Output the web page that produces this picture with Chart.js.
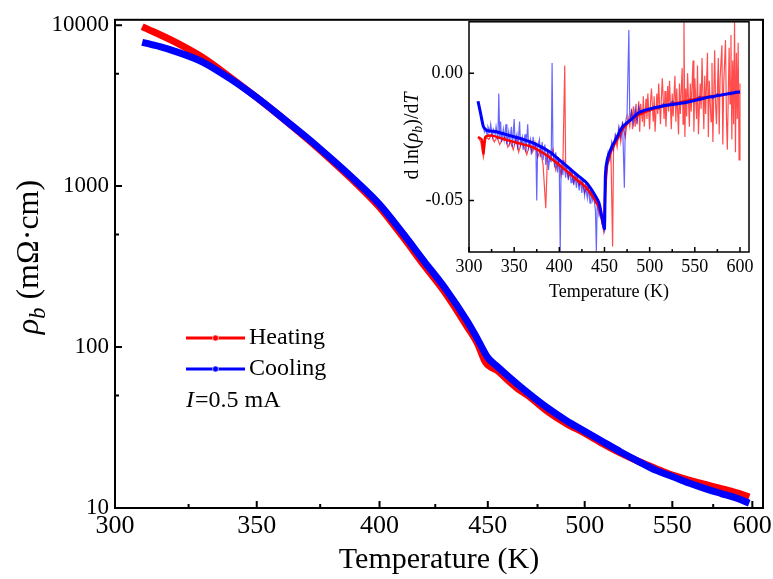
<!DOCTYPE html>
<html>
<head>
<meta charset="utf-8">
<script src="https://cdn.jsdelivr.net/npm/chart.js@4/dist/chart.umd.min.js"></script>
<style>
html, body { margin: 0; padding: 0; background: #fff; }
#wrap { position: relative; width: 773px; height: 579px; }
#main { position: absolute; left: 0; top: 0; }
#inset { position: absolute; left: 395px; top: 5px; }
</style>
</head>
<body>
<div id="wrap">
  <canvas id="main" width="773" height="579" style="width:773px;height:579px"></canvas>
  <canvas id="inset" width="365" height="305" style="width:365px;height:305px"></canvas>
</div>
<script>
// main panel: resistivity vs temperature (log-log)
const heatT = [309, 320, 330, 340, 350, 360, 370, 380, 390, 400, 410, 420, 430, 440, 445, 449, 455, 460, 465, 470, 480, 490, 500, 510, 520, 530, 540, 550, 560, 570, 580, 590, 598];
const heatRho = [9800, 7900, 6300, 4750, 3550, 2640, 1950, 1430, 1040, 740, 490, 320, 214, 134, 105, 80, 71, 62, 55, 50, 40, 33.5, 29.2, 25.1, 21.9, 19.5, 17.6, 16.0, 14.9, 14.0, 13.2, 12.4, 11.7];
const coolT = [309, 315, 320, 330, 340, 350, 360, 370, 380, 390, 400, 410, 420, 430, 440, 445, 450, 455, 460, 470, 480, 490, 500, 510, 520, 530, 540, 550, 560, 570, 580, 590, 598];
const coolRho = [7830, 7350, 6900, 5900, 4650, 3550, 2650, 1980, 1460, 1070, 770, 515, 340, 228, 145, 112, 86, 75, 66, 52, 42, 35, 30, 25.8, 22.3, 19.5, 17.2, 15.7, 14.3, 13.2, 12.3, 11.5, 10.7];

const xMajor = [300, 350, 400, 450, 500, 550, 600];
const xMinor = [325, 375, 425, 475, 525, 575];
const yMajor = [10, 100, 1000, 10000];
const yMinor = [50, 500, 5000];

// inset: d ln(rho)/dT, raw runs
const insetHeatT = [310, 313, 316, 319, 322, 325, 328, 331, 334, 337, 340, 343, 346, 349, 352, 355, 358, 361, 364, 367, 370, 373, 376, 379, 382, 385, 387, 390, 393, 396, 399, 402, 404, 406, 407, 410, 413, 416, 419, 422, 425, 428, 431, 434, 437, 440, 443, 446, 449, 451, 453, 455, 457, 459, 460, 462, 464, 466, 468, 470, 473, 476, 478,
    480, 481, 482, 484, 485, 486, 488, 489, 490, 492, 493, 494, 496, 497, 498, 500, 501, 502, 504, 505, 506, 508, 509, 510, 512, 513, 514, 516, 517, 518, 520, 521, 522, 524, 525, 526, 528, 529, 530, 532, 533, 534, 536, 537, 538, 539, 540, 541, 542, 544, 545, 546, 548, 549, 550, 552, 553, 554, 556, 557, 558, 560, 561, 562, 564, 565, 566, 568, 569, 570, 572, 573, 574, 576, 577, 578, 580, 581, 582, 584, 585, 586, 588, 589, 590, 591, 592, 593, 594, 595, 596, 597, 598, 599, 600];
const insetHeatV = [-0.025, -0.027, -0.033, -0.025, -0.026, -0.024, -0.027, -0.025, -0.028, -0.026, -0.025, -0.029, -0.027, -0.030, -0.026, -0.031, -0.027, -0.029, -0.032, -0.028, -0.031, -0.027, -0.033, -0.030, -0.036, -0.053, -0.031, -0.034, -0.030, -0.038, -0.034, -0.040, -0.035, 0.003, -0.037, -0.041, -0.038, -0.043, -0.040, -0.044, -0.042, -0.047, -0.044, -0.048, -0.046, -0.051, -0.050, -0.056, -0.062, -0.046, -0.036, -0.034, -0.029, -0.068, -0.030, -0.025, -0.029, -0.022, -0.027, -0.020, -0.025, -0.017, -0.021,
    -0.014, -0.022, -0.013, -0.021, -0.012, -0.020, -0.011, -0.023, -0.012, -0.019, -0.009, -0.021, -0.010, -0.018, -0.008, -0.022, -0.011, -0.006, -0.019, -0.009, -0.023, -0.008, -0.016, -0.004, -0.020, -0.010, -0.002, -0.018, -0.007, -0.021, -0.005, -0.015, -0.003, -0.022, -0.008, -0.017, -0.001, -0.019, -0.006, -0.024, -0.004, -0.016, 0.002, -0.020, 0.020, -0.025, -0.006, -0.017, 0.000, -0.021, -0.004, -0.015, 0.005, -0.023, -0.002, -0.018, 0.003, -0.024, -0.004, -0.014, 0.006, -0.022, -0.001, -0.016, 0.008, -0.025, -0.003, -0.019, 0.004, -0.027, 0.009, -0.012, -0.020, 0.006, -0.024, -0.002, 0.011, -0.028, -0.004, 0.013, -0.017, -0.030, 0.010, -0.012, 0.015, -0.026, 0.005, -0.020, 0.020, -0.031, 0.008, -0.018, 0.012, -0.034, -0.004];
const insetCoolT = [310, 312, 314, 316, 317, 318, 320, 321, 323, 324, 326, 327, 329, 330, 332, 333, 334, 335, 336, 338, 339, 341, 342, 344, 345, 347, 348, 350, 351, 353, 354, 356, 357, 359, 360, 362, 363, 365, 366, 368, 369, 371, 372, 374, 375, 376, 378, 379, 381, 382, 384, 385, 387, 388, 390, 391, 392, 393, 395, 396, 398, 399, 400, 401, 402, 404, 405, 407, 408, 410, 411, 413, 414, 416, 417, 419, 420, 422, 423, 425, 426, 428, 429, 431, 432, 434, 435, 437, 438, 440, 441, 442, 444, 446, 448, 450,
    451, 452, 454, 456, 458, 460, 462, 464, 466, 468, 470, 472, 473, 475, 477, 478, 480, 482, 484, 486, 488, 490, 495, 500, 505, 510, 515, 520, 525, 530, 535, 540, 545, 550, 555, 560, 565, 570, 575, 580, 585, 590, 595, 600];
const insetCoolV = [-0.011, -0.015, -0.019, -0.021, -0.023, -0.022, -0.024, -0.021, -0.023, -0.020, -0.025, -0.022, -0.024, -0.021, -0.026, -0.008, -0.025, -0.019, -0.027, -0.022, -0.026, -0.020, -0.028, -0.023, -0.027, -0.021, -0.029, -0.018, -0.027, -0.024, -0.030, -0.019, -0.028, -0.025, -0.030, -0.024, -0.031, -0.020, -0.029, -0.026, -0.032, -0.025, -0.030, -0.028, -0.050, -0.029, -0.026, -0.033, -0.027, -0.034, -0.028, -0.036, -0.030, -0.038, -0.031, -0.035, 0.004, -0.032, -0.037, -0.031, -0.039, -0.033, -0.038, -0.070, -0.035, -0.040, -0.034, -0.041, -0.036, -0.042, -0.037, -0.043, -0.038, -0.044, -0.039, -0.045, -0.040, -0.046, -0.041, -0.047, -0.042, -0.048, -0.044, -0.049, -0.045, -0.051, -0.047, -0.050, -0.048, -0.054, -0.070, -0.050, -0.056, -0.054, -0.060, -0.062,
    -0.045, -0.036, -0.031, -0.034, -0.027, -0.030, -0.024, -0.026, -0.021, -0.025, -0.019, -0.045, -0.020, -0.016, 0.017, -0.019, -0.015, -0.020, -0.014, -0.019, -0.013, -0.016, -0.014, -0.015, -0.013, -0.014, -0.012, -0.013, -0.011, -0.012, -0.011, -0.012, -0.010, -0.011, -0.009, -0.010, -0.009, -0.010, -0.008, -0.009, -0.008, -0.0085, -0.007, -0.0075];
// smoothed trend of each run
const trendHeatT = [310, 314, 316, 318, 325, 340, 355, 370, 385, 400, 410, 420, 430, 440, 445, 449, 451, 453, 458, 464, 470, 480, 490, 500, 520, 540, 560, 580, 600];
const trendHeatV = [-0.025, -0.026, -0.0315, -0.025, -0.0245, -0.026, -0.0275, -0.029, -0.032, -0.036, -0.039, -0.042, -0.045, -0.050, -0.054, -0.060, -0.045, -0.036, -0.030, -0.026, -0.022, -0.018, -0.016, -0.0145, -0.0125, -0.011, -0.0095, -0.0085, -0.0075];
const trendCoolT = [310, 313, 316, 320, 330, 345, 360, 375, 390, 400, 410, 420, 430, 438, 444, 448, 450, 451, 453, 458, 464, 470, 480, 488, 500, 520, 540, 560, 580, 600];
const trendCoolV = [-0.011, -0.016, -0.021, -0.0225, -0.023, -0.0245, -0.026, -0.028, -0.031, -0.034, -0.037, -0.040, -0.043, -0.047, -0.051, -0.058, -0.061, -0.040, -0.034, -0.029, -0.025, -0.021, -0.018, -0.0155, -0.014, -0.0125, -0.0115, -0.0098, -0.0085, -0.0073];

const insetXMajor = [300, 350, 400, 450, 500, 550, 600];
const insetXMinor = [325, 375, 425, 475, 525, 575];
const insetYMajor = [-0.05, 0];

const SERIF = '"Liberation Serif", "Times New Roman", serif';

function pts(xs, ys) {
    return xs.map((x, i) => ({x: x, y: ys[i]}));
}

// draws a run of text pieces (italic / subscript), centred on (cx, cy)
function drawRich(ctx, parts, size, cx, cy, rotate) {
    ctx.save();
    ctx.translate(cx, cy);
    if (rotate) ctx.rotate(-Math.PI / 2);
    ctx.fillStyle = '#000';
    ctx.textBaseline = 'middle';
    ctx.textAlign = 'left';
    const fontOf = p => (p.it ? 'italic ' : '') + (p.sub ? size * 0.7 : size) + 'px ' + SERIF;
    let total = 0;
    parts.forEach(p => { ctx.font = fontOf(p); total += ctx.measureText(p.t).width; });
    let x = -total / 2;
    parts.forEach(p => {
        ctx.font = fontOf(p);
        ctx.fillText(p.t, x, p.sub ? size * 0.28 : 0);
        x += ctx.measureText(p.t).width;
    });
    ctx.restore();
}

function drawFrame(chart, ctx, xs, ys, lw, majLen, minLen) {
    const a = chart.chartArea;
    const sx = chart.scales.x, sy = chart.scales.y;
    ctx.save();
    ctx.strokeStyle = '#000';
    ctx.lineWidth = lw;
    ctx.strokeRect(a.left, a.top, a.right - a.left, a.bottom - a.top);
    ctx.beginPath();
    xs.major.forEach(v => { const p = sx.getPixelForValue(v); ctx.moveTo(p, a.bottom); ctx.lineTo(p, a.bottom - majLen); });
    xs.minor.forEach(v => { const p = sx.getPixelForValue(v); ctx.moveTo(p, a.bottom); ctx.lineTo(p, a.bottom - minLen); });
    ys.major.forEach(v => { const p = sy.getPixelForValue(v); ctx.moveTo(a.left, p); ctx.lineTo(a.left + majLen, p); });
    ys.minor.forEach(v => { const p = sy.getPixelForValue(v); ctx.moveTo(a.left, p); ctx.lineTo(a.left + minLen, p); });
    ctx.stroke();
    ctx.restore();
}

const mainDeco = {
    id: 'mainDeco',
    afterDraw(chart) {
        const ctx = chart.ctx;
        drawFrame(chart, ctx, {major: xMajor, minor: xMinor}, {major: yMajor, minor: yMinor}, 2, 7, 4);
        drawRich(ctx, [{t: 'ρ', it: true}, {t: 'b', it: true, sub: true}, {t: ' (mΩ·cm)'}], 32, 30, 257, true);

        // legend
        const items = [['Heating', 'rgb(255,0,0)', 338], ['Cooling', 'rgb(0,0,255)', 369]];
        ctx.save();
        items.forEach(it => {
            ctx.strokeStyle = it[1];
            ctx.lineWidth = 3;
            ctx.beginPath();
            ctx.moveTo(186, it[2]);
            ctx.lineTo(245, it[2]);
            ctx.stroke();
            ctx.beginPath();
            ctx.arc(215.5, it[2], 3, 0, Math.PI * 2);
            ctx.fillStyle = it[1];
            ctx.fill();
            ctx.lineWidth = 1;
            ctx.strokeStyle = 'rgba(255,255,255,0.6)';
            ctx.stroke();
            ctx.fillStyle = '#000';
            ctx.font = '24px ' + SERIF;
            ctx.textBaseline = 'middle';
            ctx.textAlign = 'left';
            ctx.fillText(it[0], 249, it[2]);
        });
        ctx.font = 'italic 24px ' + SERIF;
        ctx.fillText('I', 186, 401);
        const w = ctx.measureText('I').width;
        ctx.font = '24px ' + SERIF;
        ctx.fillText('=0.5 mA', 186 + w + 1, 401);
        ctx.restore();
    }
};

new Chart(document.getElementById('main'), {
    type: 'line',
    data: {
        datasets: [
            {
                label: 'Heating',
                data: pts(heatT, heatRho),
                borderColor: 'rgb(255,0,0)',
                borderWidth: 7,
                pointRadius: 0,
                cubicInterpolationMode: 'monotone',
                order: 2
            },
            {
                label: 'Cooling',
                data: pts(coolT, coolRho),
                borderColor: 'rgb(0,0,255)',
                borderWidth: 7,
                pointRadius: 0,
                cubicInterpolationMode: 'monotone',
                order: 1
            }
        ]
    },
    options: {
        responsive: false,
        animation: false,
        events: [],
        layout: {autoPadding: false, padding: {top: 6, right: 10, left: 0, bottom: 0}},
        plugins: {legend: {display: false}, tooltip: {enabled: false}},
        scales: {
            x: {
                type: 'logarithmic',
                min: 300,
                max: 607,
                grid: {display: false, drawTicks: false},
                border: {display: false},
                afterBuildTicks: s => { s.ticks = xMajor.map(v => ({value: v})); },
                afterFit: s => { s.height = 71; s.paddingLeft = 0; s.paddingRight = 0; },
                ticks: {
                    autoSkip: false, maxRotation: 0, padding: 3, color: '#000',
                    font: {family: SERIF, size: 26},
                    callback: v => String(v)
                },
                title: {
                    display: true, text: 'Temperature (K)', color: '#000',
                    font: {family: SERIF, size: 30}, padding: {top: 0, bottom: 1}
                }
            },
            y: {
                type: 'logarithmic',
                min: 10,
                max: 10800,
                grid: {display: false, drawTicks: false},
                border: {display: false},
                afterBuildTicks: s => { s.ticks = yMajor.map(v => ({value: v})); },
                afterFit: s => { s.width = 115; },
                ticks: {
                    autoSkip: false, padding: 6, color: '#000',
                    font: {family: SERIF, size: 23},
                    callback: v => String(v)
                }
            }
        }
    },
    plugins: [mainDeco]
});

const insetDeco = {
    id: 'insetDeco',
    afterDraw(chart) {
        const ctx = chart.ctx;
        drawFrame(chart, ctx, {major: insetXMajor, minor: insetXMinor}, {major: insetYMajor, minor: []}, 1.5, 5, 3);
        drawRich(ctx, [{t: 'd ln('}, {t: 'ρ', it: true}, {t: 'b', it: true, sub: true}, {t: ')/d'}, {t: 'T', it: true}], 20, 18, 131, true);
    }
};

new Chart(document.getElementById('inset'), {
    type: 'line',
    data: {
        datasets: [
            {data: pts(insetHeatT, insetHeatV), borderColor: 'rgba(255,0,0,0.7)', borderWidth: 1.2, pointRadius: 0, tension: 0, order: 4},
            {data: pts(insetCoolT, insetCoolV), borderColor: 'rgba(0,0,255,0.6)', borderWidth: 1.2, pointRadius: 0, tension: 0, order: 3},
            {data: pts(trendHeatT, trendHeatV), borderColor: 'rgb(255,0,0)', borderWidth: 2.5, pointRadius: 0, tension: 0.2, order: 2},
            {data: pts(trendCoolT, trendCoolV), borderColor: 'rgb(0,0,255)', borderWidth: 3, pointRadius: 0, tension: 0.2, order: 1}
        ]
    },
    options: {
        responsive: false,
        animation: false,
        events: [],
        layout: {autoPadding: false, padding: {top: 10, right: 11, left: 0, bottom: 0}},
        plugins: {legend: {display: false}, tooltip: {enabled: false}},
        scales: {
            x: {
                type: 'linear',
                min: 300,
                max: 610,
                grid: {display: false, drawTicks: false},
                border: {display: false},
                afterBuildTicks: s => { s.ticks = insetXMajor.map(v => ({value: v})); },
                afterFit: s => { s.height = 58; s.paddingLeft = 0; s.paddingRight = 0; },
                ticks: {
                    autoSkip: false, maxRotation: 0, padding: 4, color: '#000',
                    font: {family: SERIF, size: 18},
                    callback: v => String(v)
                },
                title: {
                    display: true, text: 'Temperature (K)', color: '#000',
                    font: {family: SERIF, size: 18}, padding: {top: 0, bottom: 7}
                }
            },
            y: {
                type: 'linear',
                min: -0.0702,
                max: 0.0202,
                grid: {display: false, drawTicks: false},
                border: {display: false},
                afterBuildTicks: s => { s.ticks = insetYMajor.map(v => ({value: v})); },
                afterFit: s => { s.width = 74; },
                ticks: {
                    autoSkip: false, padding: 6, color: '#000',
                    font: {family: SERIF, size: 18},
                    callback: v => Number(v).toFixed(2)
                }
            }
        }
    },
    plugins: [insetDeco]
});
</script>
</body>
</html>
